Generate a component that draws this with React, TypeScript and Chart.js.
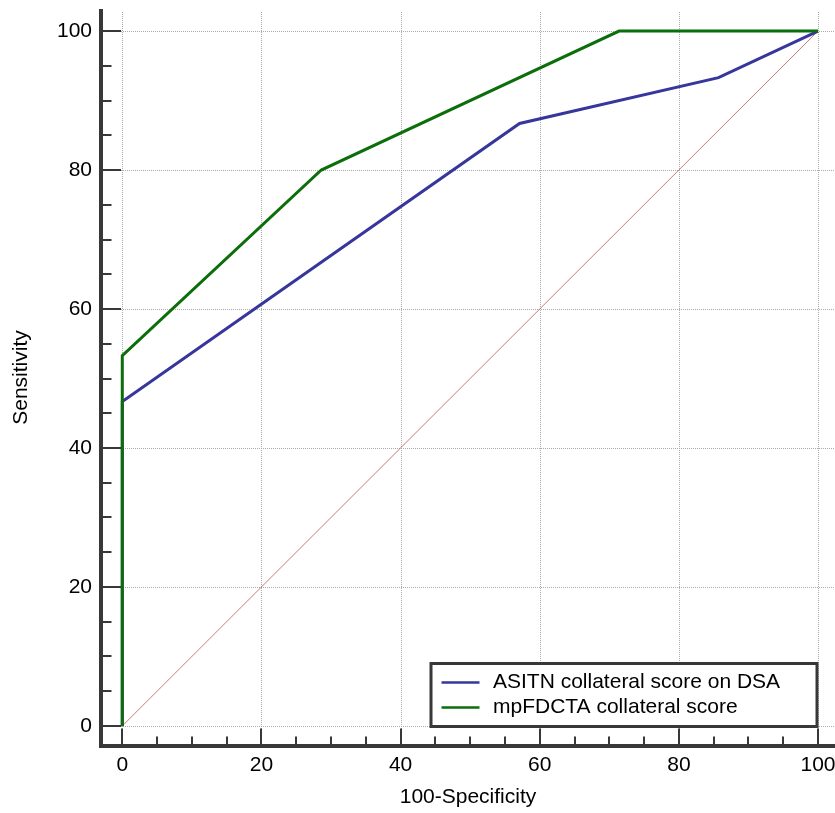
import React, { useEffect, useRef } from "react";
import { Chart, registerables } from "chart.js";

Chart.register(...registerables);

// ---- data ----
const xTicks = [0, 20, 40, 60, 80, 100];
const yTicks = [0, 20, 40, 60, 80, 100];
const minorStep = 5;
const seriesLabels = ["ASITN collateral score on DSA", "mpFDCTA collateral score"];
const asitnFpr = [0, 0, 57.1, 85.7, 100];
const asitnSens = [0, 46.7, 86.7, 93.3, 100];
const mpFpr = [0, 0, 28.6, 71.4, 100];
const mpSens = [0, 53.3, 80, 100, 100];
const refFpr = [0, 100];
const refSens = [0, 100];
const xTitle = "100-Specificity";
const yTitle = "Sensitivity";

const FONT = 'Arial, "Liberation Sans", sans-serif';
const AXIS_COLOR = "#383838";

const decorPlugin = {
  id: "rocDecor",
  beforeDatasetsDraw(chart: any) {
    const { ctx, chartArea: a, scales } = chart;
    const x = scales.x;
    const y = scales.y;
    ctx.save();
    ctx.strokeStyle = "#ababab";
    ctx.lineWidth = 1;
    ctx.setLineDash([1, 1]);
    for (const v of xTicks) {
      const px = Math.round(x.getPixelForValue(v)) + 0.5;
      ctx.beginPath();
      ctx.moveTo(px, a.top + 3);
      ctx.lineTo(px, a.bottom);
      ctx.stroke();
    }
    for (const v of yTicks) {
      const py = Math.round(y.getPixelForValue(v)) + 0.5;
      ctx.beginPath();
      ctx.moveTo(a.left, py);
      ctx.lineTo(a.right, py);
      ctx.stroke();
    }
    ctx.restore();
  },
  afterDatasetsDraw(chart: any) {
    const { ctx, chartArea: a, scales } = chart;
    const x = scales.x;
    const y = scales.y;
    const axX = a.left;
    const axY = a.bottom;
    ctx.save();
    ctx.setLineDash([]);
    ctx.strokeStyle = AXIS_COLOR;
    ctx.lineCap = "butt";
    ctx.lineWidth = 2;
    const yMin = yTicks[0];
    const yMax = yTicks[yTicks.length - 1];
    for (let v = yMin; v <= yMax + 1e-9; v += minorStep) {
      const major = yTicks.includes(v);
      const py = Math.round(y.getPixelForValue(v));
      ctx.beginPath();
      ctx.moveTo(axX, py);
      ctx.lineTo(axX + (major ? 20 : 10.5), py);
      ctx.stroke();
    }
    const xMin = xTicks[0];
    const xMax = xTicks[xTicks.length - 1];
    for (let v = xMin; v <= xMax + 1e-9; v += minorStep) {
      const major = xTicks.includes(v);
      const px = Math.round(x.getPixelForValue(v));
      ctx.beginPath();
      ctx.moveTo(px, axY);
      ctx.lineTo(px, axY - (major ? 17.5 : 9.5));
      ctx.stroke();
    }
    ctx.lineWidth = 4;
    ctx.beginPath();
    ctx.moveTo(axX, a.top);
    ctx.lineTo(axX, axY + 2);
    ctx.stroke();
    ctx.beginPath();
    ctx.moveTo(axX - 2, axY);
    ctx.lineTo(a.right + 2, axY);
    ctx.stroke();
    ctx.restore();
  },
  afterDraw(chart: any) {
    const { ctx } = chart;
    const items = chart.data.datasets.filter((d: any) => d.label);
    const left = 431;
    const top = 663.5;
    const right = 817;
    const bottom = 726.5;
    ctx.save();
    ctx.fillStyle = "#ffffff";
    ctx.fillRect(left, top, right - left, bottom - top);
    ctx.strokeStyle = AXIS_COLOR;
    ctx.lineWidth = 3;
    ctx.strokeRect(left, top, right - left, bottom - top);
    ctx.font = `21px ${FONT}`;
    ctx.textBaseline = "alphabetic";
    ctx.textAlign = "left";
    items.forEach((d: any, i: number) => {
      const ly = 682.5 + i * 25;
      ctx.strokeStyle = d.borderColor;
      ctx.lineWidth = 2.5;
      ctx.beginPath();
      ctx.moveTo(441.5, ly);
      ctx.lineTo(479.5, ly);
      ctx.stroke();
      ctx.fillStyle = "#000000";
      ctx.fillText(d.label, 493, ly + 5.6);
    });
    ctx.restore();
  },
};

export default function App() {
  const ref = useRef<HTMLCanvasElement>(null);

  useEffect(() => {
    const toPts = (xs: number[], ys: number[]) => xs.map((v, i) => ({ x: v, y: ys[i] }));
    const tickFont = { family: FONT, size: 21 };
    const chart = new Chart(ref.current as HTMLCanvasElement, {
      type: "scatter",
      data: {
        datasets: [
          {
            label: seriesLabels[0],
            data: toPts(asitnFpr, asitnSens),
            borderColor: "#36369c",
            backgroundColor: "#36369c",
            borderWidth: 3,
            pointRadius: 0,
            showLine: true,
            tension: 0,
            order: 1,
          },
          {
            label: seriesLabels[1],
            data: toPts(mpFpr, mpSens),
            borderColor: "#0b6e0b",
            backgroundColor: "#0b6e0b",
            borderWidth: 3,
            pointRadius: 0,
            showLine: true,
            tension: 0,
            order: 0,
          },
          {
            label: "",
            data: toPts(refFpr, refSens),
            borderColor: "rgba(185,90,90,0.8)",
            backgroundColor: "rgba(185,90,90,0.8)",
            borderWidth: 1,
            pointRadius: 0,
            showLine: true,
            tension: 0,
            order: 2,
          },
        ],
      },
      options: {
        animation: false,
        responsive: true,
        maintainAspectRatio: false,
        events: [],
        layout: { padding: { top: 9, right: 0, bottom: 0, left: 0 } },
        plugins: {
          legend: { display: false },
          tooltip: { enabled: false },
        },
        scales: {
          x: {
            type: "linear",
            min: -3.06,
            max: 102.44,
            afterBuildTicks: (s: any) => {
              s.ticks = xTicks.map((v) => ({ value: v }));
            },
            afterFit: (s: any) => {
              s.height = 67;
              s.paddingLeft = 0;
              s.paddingRight = 0;
            },
            grid: { display: false, drawTicks: false },
            border: { display: false },
            ticks: { font: tickFont, color: "#000", padding: 7, maxRotation: 0, autoSkip: false },
            title: {
              display: true,
              text: xTitle,
              font: tickFont,
              color: "#000",
              padding: { top: 0, bottom: 3.2 },
            },
          },
          y: {
            type: "linear",
            min: -2.88,
            max: 103.17,
            afterBuildTicks: (s: any) => {
              s.ticks = yTicks.map((v) => ({ value: v }));
            },
            afterFit: (s: any) => {
              s.width = 101;
              s.paddingTop = 0;
              s.paddingBottom = 0;
            },
            grid: { display: false, drawTicks: false },
            border: { display: false },
            ticks: { font: tickFont, color: "#000", padding: 9, autoSkip: false },
            title: {
              display: true,
              text: yTitle,
              font: tickFont,
              color: "#000",
              padding: { top: 8.6, bottom: 0 },
            },
          },
        },
      },
      plugins: [decorPlugin],
    } as any);
    return () => chart.destroy();
  }, []);

  return (
    <div style={{ position: "absolute", left: 0, top: 0, width: 835, height: 813, background: "#fff" }}>
      <canvas ref={ref} />
    </div>
  );
}
